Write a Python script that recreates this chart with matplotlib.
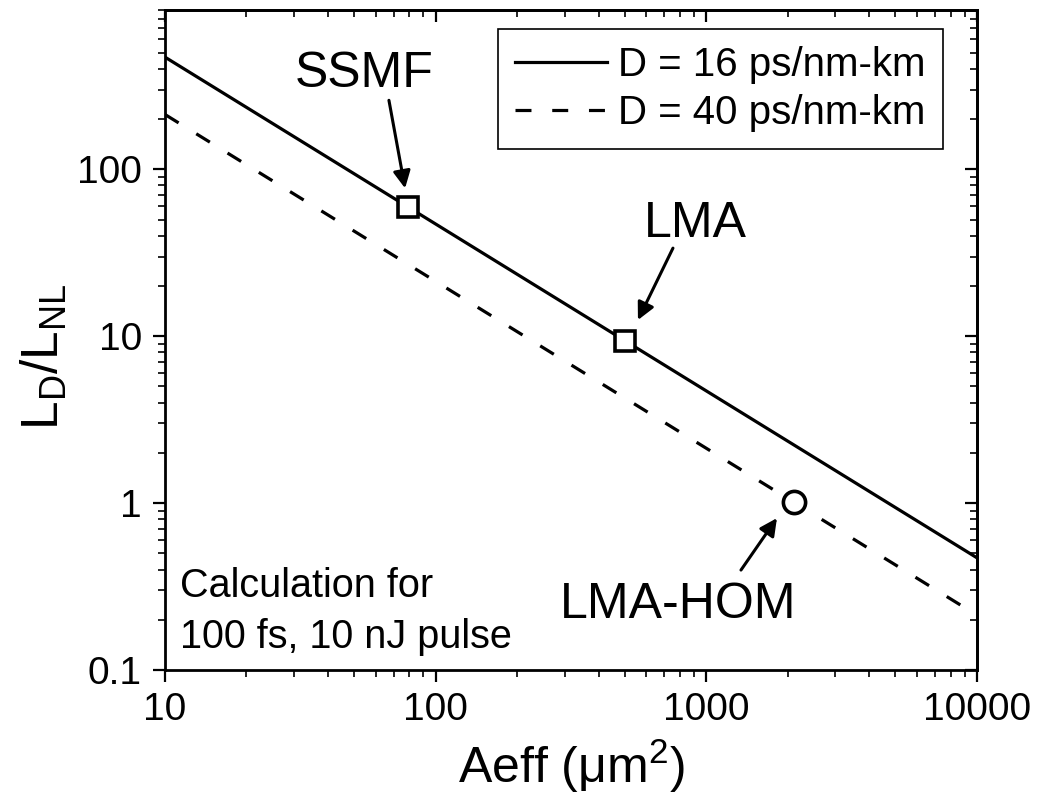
import matplotlib
matplotlib.use("Agg")
import matplotlib.pyplot as plt
from matplotlib.ticker import FuncFormatter, NullFormatter

plt.rcParams["font.family"] = ["Liberation Sans", "DejaVu Sans"]
plt.rcParams["mathtext.fontset"] = "custom"
plt.rcParams["mathtext.rm"] = "Liberation Sans"
plt.rcParams["mathtext.it"] = "Liberation Sans:italic"

# line endpoints (Aeff in um^2, L_D/L_NL)
aeff = [10, 10000]
ratio_d16 = [470, 0.47]
ratio_d40 = [213, 0.213]
series_labels = ["D = 16 ps/nm-km", "D = 40 ps/nm-km"]

# fibers marked on the curves
fiber_names = ["SSMF", "LMA", "LMA-HOM"]
fiber_aeff = [79, 500, 2110]
fiber_ratio = [59.5, 9.4, 1.01]
fiber_marker = ["s", "s", "o"]

fig = plt.figure(figsize=(10.39, 7.96), dpi=100)
ax = fig.add_axes([0.1588, 0.1583, 0.7815, 0.8291])

ax.plot(aeff, ratio_d16, color="black", lw=2.3, label=series_labels[0])
ax.plot(aeff, ratio_d40, color="black", lw=2.3, linestyle=(0, (5, 6.5)),
        label=series_labels[1])

for x, y, m in zip(fiber_aeff, fiber_ratio, fiber_marker):
    ms = 14 if m == "s" else 16
    ax.plot([x], [y], marker=m, ms=ms, mfc="white", mec="black", mew=2.6,
            zorder=5, linestyle="none")

ax.set_xscale("log")
ax.set_yscale("log")
ax.set_xlim(10, 10000)
ax.set_ylim(0.1, 900)
ax.set_xticks([10, 100, 1000, 10000])
ax.set_yticks([0.1, 1, 10, 100])
fmt = FuncFormatter(lambda v, p: f"{v:g}")
ax.xaxis.set_major_formatter(fmt)
ax.yaxis.set_major_formatter(fmt)
ax.xaxis.set_minor_formatter(NullFormatter())
ax.yaxis.set_minor_formatter(NullFormatter())

ax.tick_params(which="major", direction="out", length=8.6, width=1.6,
               labelsize=28)
ax.tick_params(which="minor", direction="out", length=5, width=1.2)
ax.tick_params(axis="x", which="major", pad=7)
ax.tick_params(axis="y", which="major", pad=8)
for s in ax.spines.values():
    s.set_linewidth(2)

# mirrored ticks pointing inwards on top and right
secx = ax.secondary_xaxis("top")
secx.tick_params(which="major", direction="in", length=8.6, width=1.6)
secx.tick_params(which="minor", direction="in", length=5, width=1.2)
secx.xaxis.set_major_formatter(NullFormatter())
secx.xaxis.set_minor_formatter(NullFormatter())
secx.spines["top"].set_linewidth(2)
secy = ax.secondary_yaxis("right")
secy.tick_params(which="major", direction="in", length=8.6, width=1.6)
secy.tick_params(which="minor", direction="in", length=5, width=1.2)
secy.yaxis.set_major_formatter(NullFormatter())
secy.yaxis.set_minor_formatter(NullFormatter())
secy.spines["right"].set_linewidth(2)

ax.set_xlabel("Aeff (μm$\\mathregular{^2}$)", fontsize=36, labelpad=7)
ax.set_ylabel(r"$\mathregular{L_D/L_{NL}}$", fontsize=37)
ax.yaxis.set_label_coords(-0.117, 0.474)

leg = ax.legend(loc="upper right", bbox_to_anchor=(0.958, 0.971),
                borderaxespad=0, fontsize=29, frameon=True, fancybox=False,
                framealpha=1, edgecolor="black", handlelength=2.3,
                handletextpad=0.28, labelspacing=0.24, borderpad=0.42)
leg.get_frame().set_linewidth(1.2)

# annotation labels and arrows
arrow = dict(arrowstyle="-|>", color="black", lw=2.2, mutation_scale=26,
             shrinkA=0, shrinkB=0)
ax.text(54.3, 310, fiber_names[0], fontsize=36, ha="center", va="baseline")
ax.annotate("", xy=(77.1, 76.9), xytext=(67.2, 259), arrowprops=arrow)
ax.text(908, 39.2, fiber_names[1], fontsize=36, ha="center", va="baseline")
ax.annotate("", xy=(559, 12.5), xytext=(753, 33.7), arrowprops=arrow)
ax.text(785, 0.205, fiber_names[2], fontsize=36, ha="center", va="baseline")
ax.annotate("", xy=(1824, 0.813), xytext=(1343, 0.397), arrowprops=arrow)

ax.text(0.0185, 0.1106, "Calculation for", transform=ax.transAxes,
        fontsize=28.5, ha="left", va="baseline")
ax.text(0.0185, 0.0333, "100 fs, 10 nJ pulse", transform=ax.transAxes,
        fontsize=28.5, ha="left", va="baseline")

fig.savefig("out.png", dpi=100)
